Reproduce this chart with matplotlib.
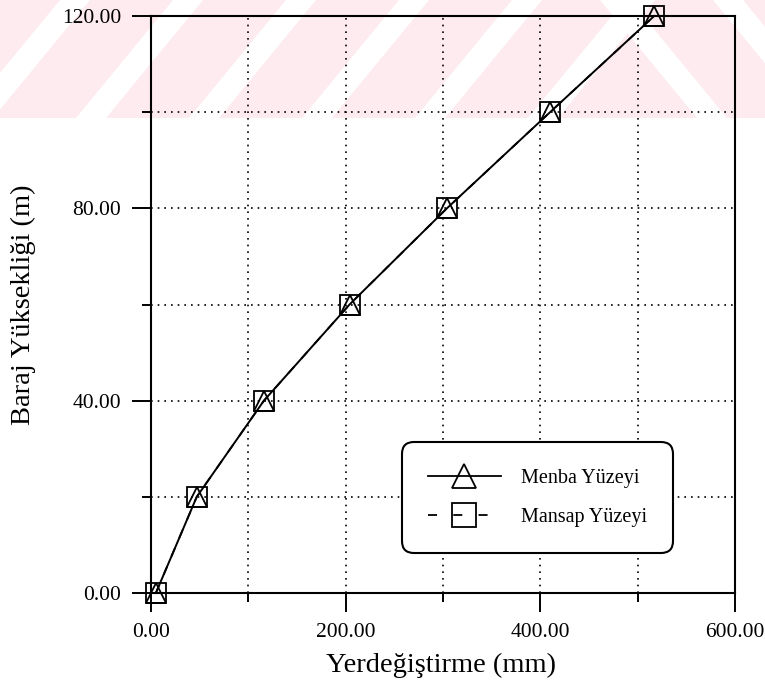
import matplotlib
matplotlib.use('Agg')
import matplotlib.pyplot as plt
from matplotlib.patches import Polygon, Rectangle
from matplotlib.ticker import MultipleLocator, FormatStrFormatter
from matplotlib.lines import Line2D

plt.rcParams['font.family'] = ['Liberation Serif', 'DejaVu Serif']

# baraj yuksekligi (m) ve yerdegistirmeler (mm)
HEIGHT = [0, 20, 40, 60, 80, 100, 120]
MENBA = [5, 47, 116, 204, 304, 410, 517]
MANSAP = [5, 47, 116, 204, 304, 410, 517]

W, H = 765, 686
fig = plt.figure(figsize=(W / 100, H / 100), dpi=100)


def px(x, y):
    return (x / W, 1 - y / H)


# soluk kirmizi filigran (ust serit)
PINK = '#fdebef'
fig.patches.append(Rectangle(px(0, 118), 1, 118 / H, transform=fig.transFigure,
                             facecolor=PINK, edgecolor='none', zorder=-2))
for x0 in range(-150, 560, 113):
    pts = [px(x0, 118), px(x0 + 30, 118), px(x0 + 127, 0), px(x0 + 97, 0)]
    fig.patches.append(Polygon(pts, closed=True, transform=fig.transFigure,
                               facecolor='white', edgecolor='none', zorder=-1))
for x0 in [600, 713]:
    pts = [px(x0, 0), px(x0 + 30, 0), px(x0 + 127, 118), px(x0 + 97, 118)]
    fig.patches.append(Polygon(pts, closed=True, transform=fig.transFigure,
                               facecolor='white', edgecolor='none', zorder=-1))

ax = fig.add_axes([151 / W, 1 - 593 / H, (735 - 151) / W, (593 - 16) / H])
ax.patch.set_alpha(0)

ax.plot(MANSAP, HEIGHT, color='k', lw=1.3, ls=(0, (5, 6)), marker='s', ms=14,
        mfc='none', mec='k', mew=1.3, clip_on=False, zorder=3)
ax.plot(MENBA, HEIGHT, color='k', lw=1.4, ls='-', marker='^', ms=14,
        mfc='none', mec='k', mew=1.3, clip_on=False, zorder=4)

ax.set_xlim(0, 600)
ax.set_ylim(0, 120)
ax.xaxis.set_major_locator(MultipleLocator(200))
ax.xaxis.set_minor_locator(MultipleLocator(100))
ax.yaxis.set_major_locator(MultipleLocator(40))
ax.yaxis.set_minor_locator(MultipleLocator(20))
ax.xaxis.set_major_formatter(FormatStrFormatter('%.2f'))
ax.yaxis.set_major_formatter(FormatStrFormatter('%.2f'))

ax.tick_params(which='major', direction='out', length=13.5, width=1.4,
               labelsize=15.5, pad=8)
ax.tick_params(which='minor', direction='out', length=6.5, width=1.4)
for s in ax.spines.values():
    s.set_linewidth(1.5)

ax.grid(which='both', color='k', ls=(0, (1, 3)), lw=1.2)
ax.set_axisbelow(True)

fig.text(441 / W, 1 - 665 / H, 'Yerdeğiştirme (mm)', fontsize=20.5,
         ha='center', va='center')
fig.text(23 / W, 1 - 305 / H, 'Baraj Yüksekliği (m)', fontsize=20.5,
         rotation=90, ha='center', va='center')

handles = [
    Line2D([], [], color='k', lw=1.3, ls='-', marker='^', ms=17, mfc='none', mew=1.3),
    Line2D([], [], color='k', lw=1.3, ls=(0, (5, 9)), marker='s', ms=17, mfc='none', mew=1.3),
]
leg = ax.legend(handles, ['Menba Yüzeyi', 'Mansap Yüzeyi'],
                loc='lower left', bbox_to_anchor=((402 - 151) / 584, (593 - 553) / 577),
                fontsize=14.5, handlelength=3.6, handletextpad=1.0, labelspacing=1.0,
                borderpad=1.3, borderaxespad=0, fancybox=True, framealpha=1,
                edgecolor='k')
leg.get_frame().set_linewidth(1.5)
leg.get_frame().set_boxstyle('round', pad=0, rounding_size=0.6)

fig.savefig('out.png', dpi=100)
